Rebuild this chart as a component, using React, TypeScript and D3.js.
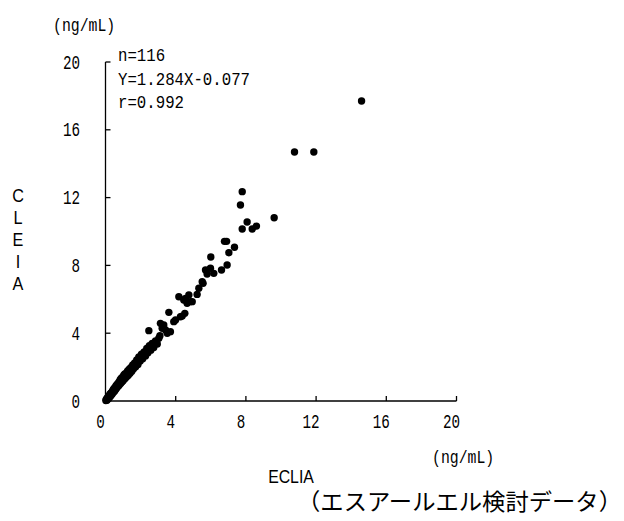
import React from "react";
import * as d3 from "d3";

// ECLIA (x) vs CLEIA (y), ng/mL
const eclia: number[] = [
  0.02, 0.05, 0.08, 0.1, 0.12, 0.15, 0.18, 0.2, 0.22, 0.25,
  0.28, 0.3, 0.33, 0.36, 0.38, 0.4, 0.43, 0.45, 0.48, 0.5,
  0.53, 0.56, 0.58, 0.6, 0.63, 0.66, 0.7, 0.72, 0.75, 0.78,
  0.8, 0.84, 0.87, 0.9, 0.93, 0.97, 1.0, 1.04, 1.08, 1.1,
  1.14, 1.18, 1.22, 1.26, 1.3, 1.35, 1.4, 1.45, 1.5, 1.55,
  1.6, 1.66, 1.72, 1.78, 1.85, 1.9, 1.98, 2.05, 2.12, 2.2,
  2.28, 2.35, 2.42, 2.5, 2.58, 2.66, 2.75, 2.85, 2.95, 3.04,
  2.47, 3.13, 3.32, 3.23, 3.42, 3.7, 3.52, 3.89, 3.61, 3.99,
  4.27, 4.52, 4.37, 4.18, 4.56, 4.84, 4.65, 4.46, 4.94, 5.22,
  5.32, 5.51, 5.56, 5.7, 5.98, 5.79, 6.17, 6.0, 6.61, 6.93,
  7.03, 7.35, 6.78, 6.9, 7.69, 7.79, 8.07, 7.79, 8.36, 8.6,
  9.61, 10.77, 11.87, 14.59, 4.75, 3.1,
];
const cleia: number[] = [
  0.03, 0.1, 0.04, 0.18, 0.1, 0.24, 0.15, 0.32, 0.22, 0.4,
  0.28, 0.46, 0.35, 0.52, 0.42, 0.6, 0.5, 0.68, 0.55, 0.75,
  0.6, 0.82, 0.7, 0.9, 0.75, 0.98, 0.85, 1.05, 0.9, 1.14,
  0.98, 1.25, 1.05, 1.34, 1.12, 1.4, 1.2, 1.52, 1.3, 1.6,
  1.36, 1.64, 1.44, 1.78, 1.52, 1.88, 1.64, 1.98, 1.76, 2.12,
  1.9, 2.24, 2.02, 2.42, 2.16, 2.6, 2.36, 2.76, 2.5, 2.9,
  2.66, 3.1, 2.84, 3.26, 3.0, 3.4, 3.16, 3.54, 3.36, 3.7,
  4.15, 4.58, 4.48, 4.29, 4.19, 4.09, 3.99, 4.68, 5.23, 4.78,
  4.97, 5.17, 5.01, 6.15, 6.05, 5.86, 5.76, 5.96, 5.86, 6.29,
  6.65, 7.04, 6.94, 7.73, 7.83, 7.49, 7.53, 8.5, 7.73, 8.02,
  8.75, 9.07, 9.42, 9.42, 11.56, 12.35, 10.56, 10.15, 10.15, 10.32,
  10.81, 14.69, 14.69, 17.7, 6.25, 3.85,
];

const xTicks = [0, 4, 8, 12, 16, 20];
const yTicks = [0, 4, 8, 12, 16, 20];
const statLines = ["n=116", "Y=1.284X-0.077", "r=0.992"];
const yTitle = ["C", "L", "E", "I", "A"];

const monoFont = "'Liberation Mono', 'DejaVu Sans Mono', monospace";
const sansFont = "'Liberation Sans', Arial, sans-serif";

// text squeezed horizontally to imitate the narrow gothic of the original
function Narrow({
  x,
  y,
  anchor = "start",
  sx = 0.85,
  size = 17,
  font = monoFont,
  children,
}: {
  x: number;
  y: number;
  anchor?: "start" | "middle" | "end";
  sx?: number;
  size?: number;
  font?: string;
  children: React.ReactNode;
}) {
  return (
    <text
      transform={`translate(${x},${y}) scale(${sx},1)`}
      textAnchor={anchor}
      fontFamily={font}
      fontSize={size}
      fill="#000"
    >
      {children}
    </text>
  );
}

export default function App() {
  const width = 624;
  const height = 521;

  const x = d3.scaleLinear().domain([0, 20]).range([105.5, 456.5]);
  const y = d3.scaleLinear().domain([0, 20]).range([401, 62]);

  const points = eclia.map((v, i) => [v, cleia[i]] as [number, number]);

  return (
    <svg
      width={width}
      height={height}
      style={{ position: "absolute", left: 0, top: 0, background: "#fff" }}
    >
      {/* axes */}
      <g stroke="#000" strokeWidth={1.3} fill="none">
        <line x1={x(0)} x2={x(20)} y1={y(0)} y2={y(0)} />
        <line x1={x(0)} x2={x(0)} y1={y(0)} y2={y(20)} />
        {xTicks.slice(1).map((t) => (
          <line key={"xt" + t} x1={x(t)} x2={x(t)} y1={y(0)} y2={y(0) - 5} />
        ))}
        {yTicks.slice(1).map((t) => (
          <line key={"yt" + t} x1={x(0)} x2={x(0) + 5} y1={y(t)} y2={y(t)} />
        ))}
      </g>

      {xTicks.map((t) => (
        <Narrow key={"xl" + t} x={x(t) - 5} y={428} anchor="middle" size={19.5} sx={0.73}>
          {t}
        </Narrow>
      ))}
      {yTicks.map((t) => (
        <Narrow key={"yl" + t} x={80} y={y(t) + 6.5} anchor="end" size={19.5} sx={0.73}>
          {t}
        </Narrow>
      ))}
      <Narrow x={53} y={31} size={19} sx={0.78}>
        (ng/mL)
      </Narrow>
      <Narrow x={432} y={463} size={19} sx={0.78}>
        (ng/mL)
      </Narrow>
      {statLines.map((s, i) => (
        <Narrow key={s} x={118} y={61 + i * 23.5} size={18.5} sx={0.85}>
          {s}
        </Narrow>
      ))}

      {/* points */}
      <g fill="#000">
        {points.map((p, i) => (
          <circle key={i} cx={x(p[0])} cy={y(p[1])} r={3.7} />
        ))}
      </g>

      {/* axis titles */}
      {yTitle.map((c, i) => (
        <Narrow key={i} x={18} y={202 + i * 22} anchor="middle" size={18} sx={0.9} font={sansFont}>
          {c}
        </Narrow>
      ))}
      <Narrow x={291} y={483} anchor="middle" size={18} sx={0.88} font={sansFont}>
        ECLIA
      </Narrow>

      <text
        x={297}
        y={510}
        fontFamily="'Noto Sans CJK JP', sans-serif"
        fontSize={23}
        fill="#000"
        textLength={325}
        lengthAdjust="spacingAndGlyphs"
      >
        （エスアールエル検討データ）
      </text>
    </svg>
  );
}
